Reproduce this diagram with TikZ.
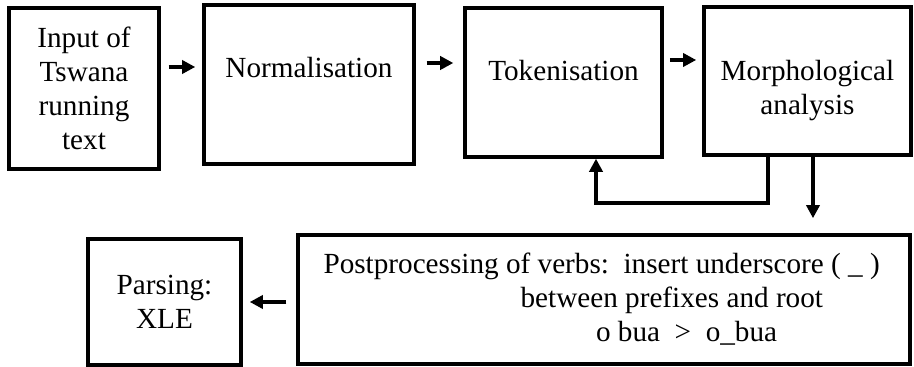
\documentclass[tikz,border=0pt]{standalone}
\usepackage{fontspec}
\setmainfont{Liberation Serif}
\usetikzlibrary{arrows.meta,fit,positioning}

\begin{document}
\begin{tikzpicture}[x=0.411pt, y=-0.411pt,
  every node/.style={font=\fontsize{12}{14}\selectfont},
  box/.style={draw, line width=1.4pt, inner sep=0pt},
  txt/.style={align=center, inner sep=0pt},
  arr/.style={line width=1.4pt, -{Triangle[length=5.4pt, width=5.4pt]}}]
\useasboundingbox (0,0) rectangle (914,367);

% Top row
\node[box, fit={(9,8) (159,169)}] (input) {};
\node[txt] (inputtxt) at (input.center) {Input of\\Tswana\\running\\text};
\node[box, fit={(204,5) (414,164)}] (norm) {};
\node[anchor=base] (normtxt) at ([yshift=-30.6pt]norm.north) {Normalisation};
\node[box, fit={(465,8) (662,157)}] (tok) {};
\node[anchor=base] (toktxt) at ([yshift=-30.6pt]tok.north) {Tokenisation};
\node[box, fit={(704,7) (911,155)}] (morph) {};
\node[txt] (morphtxt) at ([yshift=-3.9pt]morph.center) {Morphological\\analysis};

% Bottom row
\node[box, fit={(298,235) (910,364)}] (post) {};
\node[txt, align=left, anchor=west] (posttxt) at ([xshift=11pt]post.west)
  {Postprocessing of verbs:\ \ insert underscore ( \_ )\\
   \hspace*{81pt}between prefixes and root\\
   \hspace*{112pt}o bua\ \ >\ \ o\_bua};
\node[box, fit={(88,239) (241,365)}] (parse) {};
\node[txt] (parsetxt) at (parse.center) {Parsing:\\XLE};

% Arrows between the boxes
\coordinate (r1) at (0,67);
\coordinate (r2) at (0,63);
\coordinate (r3) at (0,60);
\coordinate (r4) at (0,302);
\draw[arr, shorten <=3.3pt, shorten >=2.9pt] (input.east |- r1) -- (norm.west |- r1);
\draw[arr, shorten <=4.5pt, shorten >=4.1pt] (norm.east |- r2) -- (tok.west |- r2);
\draw[arr, shorten <=2.5pt, shorten >=2.5pt] (tok.east |- r3) -- (morph.west |- r3);

% Feedback loop back to tokenisation
\coordinate (fb1) at (768,203);
\coordinate (fb2) at (596,203);
\draw[arr] (morph.south -| fb1) -- (fb1) -- (fb2) -- (tok.south -| fb2);

% Down to postprocessing, then to parsing
\coordinate (dn) at (813,0);
\draw[arr, shorten >=6.2pt] (morph.south -| dn) -- (post.north -| dn);
\draw[arr, shorten <=4.1pt, shorten >=2.9pt] (post.west |- r4) -- (parse.east |- r4);

\end{tikzpicture}
\end{document}
